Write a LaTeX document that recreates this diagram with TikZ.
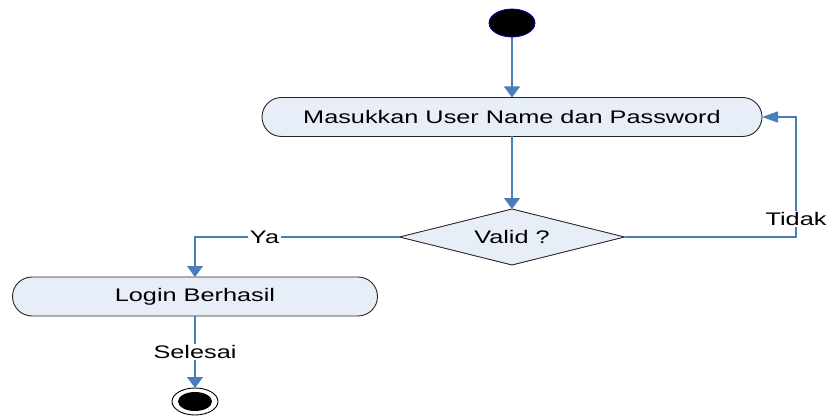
\documentclass[tikz,border=0pt]{standalone}
\usepackage{fontspec}
\setmainfont{Liberation Sans}[FakeStretch=1.39]
\usetikzlibrary{shapes.geometric,arrows.meta}
\definecolor{lineblue}{HTML}{4A7EBB}
\definecolor{boxfill}{HTML}{E8EEF7}
\begin{document}
\begin{tikzpicture}[x=1pt,y=-1pt,
  every node/.style={font=\fontsize{18.2pt}{20pt}\selectfont, inner sep=0pt, outer sep=0pt},
  actbox/.style={draw=black!85, fill=boxfill, rounded corners=19.5pt, line width=0.9pt, minimum height=39pt},
  decision/.style={diamond, draw=black!85, fill=boxfill, line width=0.9pt, aspect=4, minimum width=225pt, minimum height=56pt},
  vflow/.style={draw=lineblue, line width=1.2pt, -{Triangle[width=16pt,length=11pt]}},
  hflow/.style={draw=lineblue, line width=1.2pt, -{Triangle[width=11pt,length=16pt]}},
  lab/.style={fill=white, inner sep=1.5pt},
  startnode/.style={ellipse, fill=black, draw=blue!70!black, line width=0.8pt, minimum width=46pt, minimum height=28pt},
  endouter/.style={ellipse, fill=white, draw=black, line width=0.9pt, minimum width=46pt, minimum height=27pt},
  endinner/.style={ellipse, fill=black, minimum width=34pt, minimum height=19pt}]
\useasboundingbox (0,0) rectangle (830,417);

\node[startnode] (start) at (512,23) {};
\node[actbox, minimum width=500pt] (input) at (512,117) {Masukkan User Name dan Password};
\node[decision] (valid) at (512,237) {Valid ?};
\node[actbox, minimum width=365pt] (login) at (195,296.5) {Login Berhasil};
\node[endouter] (end) at (195,401.5) {};
\node[endinner] (endin) at (end.center) {};

\coordinate (tc) at (796,237);
\coordinate (yc) at (195,237);

\draw[vflow] (start) -- (input);
\draw[vflow] (input) -- (valid);
\draw[hflow] (valid.east) -- (tc) -- node[lab, pos=0.15] {Tidak} (tc |- input.east) -- (input.east);
\draw[vflow] (valid.west) -- node[lab, pos=0.66] {Ya} (yc) -- (login.north);
\draw[vflow] (login.south) -- node[lab] {Selesai} (end.north);
\end{tikzpicture}
\end{document}
